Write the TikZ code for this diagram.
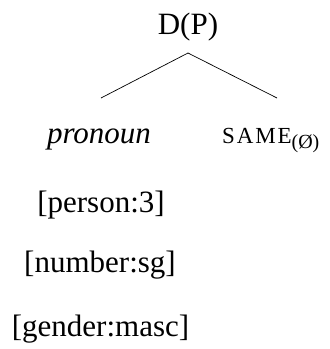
\documentclass[tikz,border=0pt]{standalone}
\usepackage{fontspec}
\setmainfont{Liberation Serif}
\newfontfamily\spacedfont[LetterSpace=8]{Liberation Serif}
\newcommand{\bigsize}{\fontsize{31}{37}\selectfont}
\tikzset{lbl/.style={anchor=base, inner sep=0pt, font=\bigsize}}
\begin{document}
\begin{tikzpicture}[x=1pt,y=-1pt]
\useasboundingbox (0,0) rectangle (330,349);
\node [lbl] (dp) at (188,34) {D(P)};
\node [lbl] (pron) at (99,143) {\textit{pronoun}};
\node [lbl, anchor=base west] (same) at (222,143) {{\spacedfont\fontsize{23}{28}\selectfont SAME}\raisebox{-5pt}{\fontsize{20}{24}\selectfont(Ø)}};
\node [lbl] (person) at (101,212) {[person:3]};
\node [lbl] (number) at (100,272) {[number:sg]};
\node [lbl] (gender) at (100.5,336) {[gender:masc]};

\coordinate (fork) at (188,53);
\coordinate (pron-top) at (101,98);
\coordinate (same-top) at (277,98);
\draw [line width=.7pt] (fork) -- (pron-top);
\draw [line width=.7pt] (fork) -- (same-top);
\end{tikzpicture}
\end{document}
